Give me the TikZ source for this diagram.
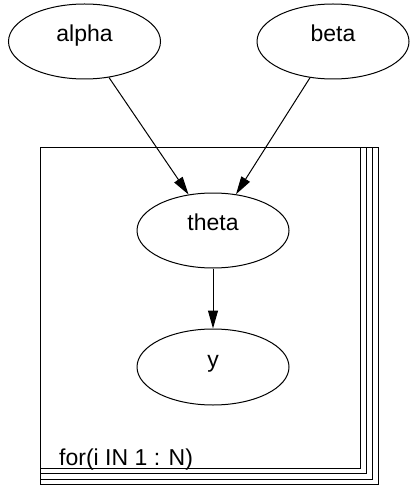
\documentclass[tikz,border=0pt]{standalone}
\usepackage{fontspec}
\setmainfont{Liberation Sans}
\usetikzlibrary{shapes.geometric,arrows.meta}
\begin{document}
\begin{tikzpicture}[x=1pt,y=-1pt,
  var/.style={draw,ellipse,line width=1pt,minimum width=152pt,minimum height=75pt,
    inner sep=0pt,text height=0pt,text depth=0pt,font=\fontsize{23}{27}\selectfont},
  edge/.style={line width=1pt,-{Triangle[length=18pt,width=10pt]}},
  plate/.style={draw,line width=1pt}]
\useasboundingbox (0,0) rectangle (409,486);

% stacked plate for the repeated block
\draw[plate] (40,148) rectangle (378,484.5);
\draw[plate] (40,148) rectangle (372,479);
\draw[plate] (40,148) rectangle (366,473.5);
\draw[plate] (40,148) rectangle (360,468);
\node[anchor=base west,inner sep=0pt,font=\fontsize{23}{27}\selectfont] (loop) at (59,465) {for(i IN 1 : N)};

% variables
\node[var] (alpha) at (84.5,41.5) {alpha};
\node[var] (beta) at (333,41.5) {beta};
\node[var] (theta) at (213,230.5) {theta};
\node[var,minimum height=76pt] (y) at (213,367) {y};

% dependencies
\draw[edge] (alpha) -- (theta);
\draw[edge] (beta) -- (theta);
\draw[edge] (theta) -- (y);
\end{tikzpicture}
\end{document}
